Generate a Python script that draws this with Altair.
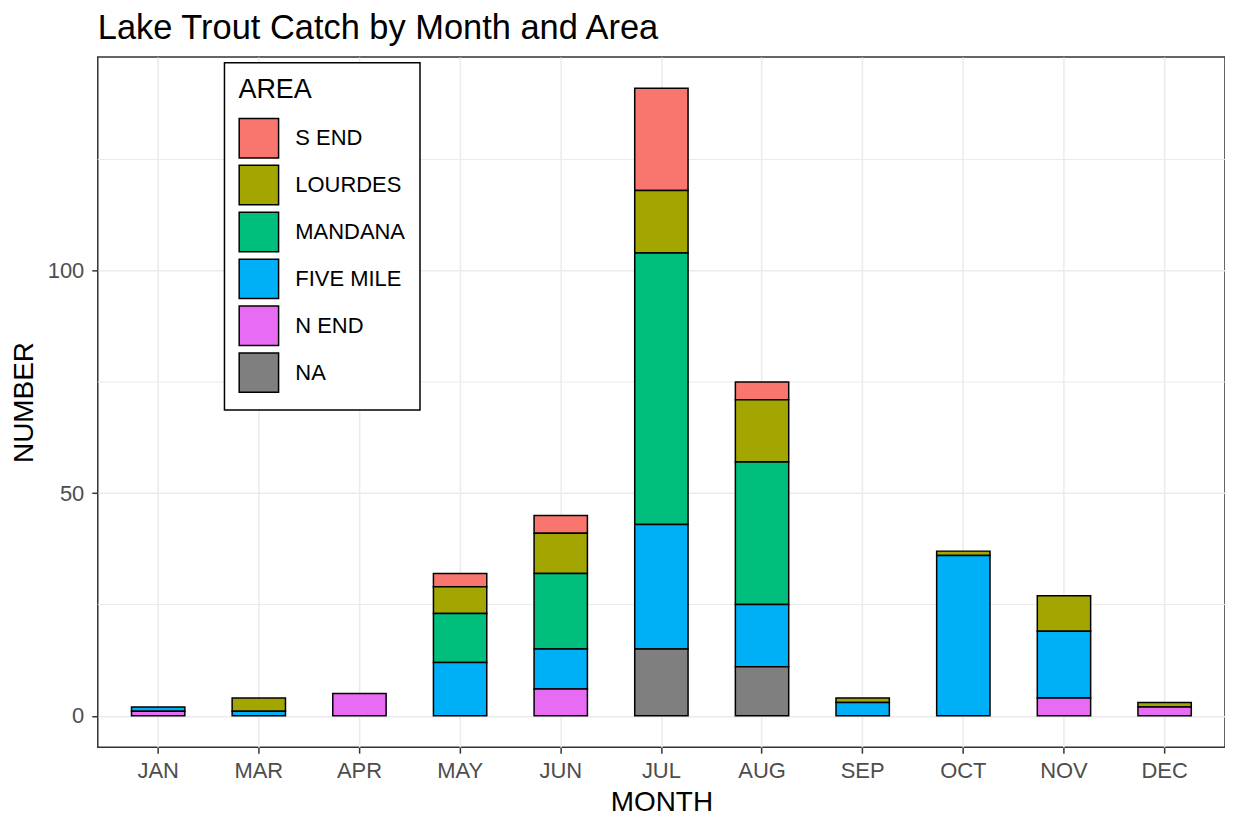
import altair as alt
import pandas as pd

MONTHS = ["JAN", "MAR", "APR", "MAY", "JUN", "JUL", "AUG", "SEP", "OCT", "NOV", "DEC"]
AREAS = ["S END", "LOURDES", "MANDANA", "FIVE MILE", "N END", "NA"]

S_END     = [0, 0, 0, 3, 4, 23, 4, 0, 0, 0, 0]
LOURDES   = [0, 3, 0, 6, 9, 14, 14, 1, 1, 8, 1]
MANDANA   = [0, 0, 0, 11, 17, 61, 32, 0, 0, 0, 0]
FIVE_MILE = [1, 1, 0, 12, 9, 28, 14, 3, 36, 15, 0]
N_END     = [1, 0, 5, 0, 6, 0, 0, 0, 0, 4, 2]
NA_AREA   = [0, 0, 0, 0, 0, 15, 11, 0, 0, 0, 0]

COLORS = ["#F8766D", "#A3A500", "#00BF7D", "#00B0F6", "#E76BF3", "#7F7F7F"]
Y_BREAKS = [0, 50, 100]
Y_MINOR = [25, 75, 125]

series = [S_END, LOURDES, MANDANA, FIVE_MILE, N_END, NA_AREA]
rows = []
for i, (area, vals) in enumerate(zip(AREAS, series)):
    for m, v in zip(MONTHS, vals):
        if v > 0:
            rows.append({"MONTH": m, "AREA": area, "NUMBER": v,
                         "stack": len(AREAS) - 1 - i})
df = pd.DataFrame(rows)
minor_df = pd.DataFrame({"NUMBER": Y_MINOR})

FONT = "Liberation Sans"
W, H = 1130, 692

y_scale = alt.Scale(domain=[-7.05, 148.05], nice=False, zero=False)
y_axis = alt.Axis(
    values=Y_BREAKS, title="NUMBER", titleFont=FONT, titleFontSize=28,
    titleFontWeight="normal", titleColor="black", titleAngle=270,
    titleX=-73, titleY=H / 2, titleAlign="center", titleBaseline="middle",
    labelFont=FONT, labelFontSize=22, labelColor="#4D4D4D", labelPadding=8,
    tickColor="#333333", tickSize=6, tickWidth=1.5, domain=False,
    grid=True, gridColor="#EBEBEB", gridWidth=1.5,
)
x_axis = alt.Axis(
    title="MONTH", titleFont=FONT, titleFontSize=28, titleFontWeight="normal",
    titleColor="black", titleX=W / 2, titleY=55, titleAlign="center",
    titleBaseline="middle", labelAngle=0, labelFont=FONT, labelFontSize=22,
    labelColor="#4D4D4D", labelPadding=7, tickColor="#333333", tickSize=6,
    tickWidth=1.5, domain=False, grid=True, gridColor="#EBEBEB", gridWidth=1.5,
    bandPosition=0.5,
)

minor = alt.Chart(minor_df).mark_rule(color="#EBEBEB", strokeWidth=1).encode(
    y=alt.Y("NUMBER:Q", scale=y_scale, axis=y_axis),
)

bars = alt.Chart(df).mark_bar(stroke="black", strokeWidth=1.5, opacity=1).encode(
    x=alt.X("MONTH:N", sort=MONTHS,
            scale=alt.Scale(paddingInner=0.47, paddingOuter=0.335), axis=x_axis),
    y=alt.Y("NUMBER:Q", stack="zero", scale=y_scale, axis=y_axis),
    color=alt.Color(
        "AREA:N",
        scale=alt.Scale(domain=AREAS, range=COLORS),
        legend=alt.Legend(
            title="AREA", orient="none", legendX=127, legendY=6,
            direction="vertical", symbolType="square", symbolSize=1560,
            symbolStrokeColor="black", symbolStrokeWidth=1.5,
            symbolOpacity=1,
            labelFont=FONT, labelFontSize=22, labelColor="black",
            labelOffset=16, titleFont=FONT, titleFontSize=27,
            titleFontWeight="normal", titleColor="black", titlePadding=14,
            padding=14, rowPadding=0, strokeColor="black", fillColor="white",
        ),
    ),
    order=alt.Order("stack:Q", sort="ascending"),
)

chart = alt.layer(minor, bars).properties(
    width=W, height=H,
    autosize=alt.AutoSizeParams(type="none"),
    padding={"left": 90, "top": 48, "right": 0, "bottom": 70},
    title=alt.TitleParams(
        "Lake Trout Catch by Month and Area", anchor="start", frame="group",
        font=FONT, fontSize=34.5, fontWeight="normal", color="black", offset=10,
    ),
).configure_view(stroke="#333333", strokeWidth=1.5).configure_legend(strokeWidth=1.5)

chart.save("out.html", embed_options={"renderer": "svg", "actions": False})
